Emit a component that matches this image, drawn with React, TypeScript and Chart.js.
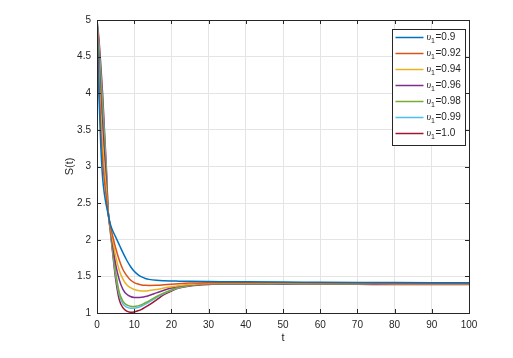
import React, { useEffect, useRef } from 'react';
import { Chart, registerables } from 'chart.js';

Chart.register(...registerables);

// time samples
const tValues = [0, 0.5, 1, 1.5, 2, 2.5, 3, 3.5, 4, 5, 6, 7, 8, 9, 10, 11, 12, 13, 14, 16, 18, 20, 22, 25, 30, 35, 40, 50, 60, 70, 80, 90, 100];

// S(t) for each v1
const s090 = [5, 4.0, 3.3, 2.85, 2.62, 2.47, 2.35, 2.23, 2.15, 2.04, 1.93, 1.82, 1.72, 1.635, 1.57, 1.525, 1.493, 1.472, 1.459, 1.446, 1.44, 1.437, 1.435, 1.432, 1.429, 1.427, 1.425, 1.422, 1.42, 1.418, 1.416, 1.414, 1.412];
const s092 = [5, 4.15, 3.52, 3.08, 2.8, 2.58, 2.36, 2.21, 2.1, 1.89, 1.72, 1.59, 1.51, 1.45, 1.415, 1.395, 1.383, 1.378, 1.376, 1.378, 1.385, 1.393, 1.4, 1.408, 1.413, 1.414, 1.414, 1.412, 1.41, 1.408, 1.407, 1.406, 1.405];
const s094 = [5, 4.3, 3.74, 3.31, 2.97, 2.68, 2.37, 2.2, 2.06, 1.78, 1.58, 1.46, 1.385, 1.345, 1.32, 1.307, 1.302, 1.302, 1.306, 1.32, 1.34, 1.358, 1.373, 1.39, 1.403, 1.407, 1.407, 1.405, 1.403, 1.402, 1.401, 1.4, 1.4];
const s096 = [5, 4.45, 3.96, 3.54, 3.15, 2.79, 2.38, 2.19, 2.02, 1.67, 1.45, 1.32, 1.255, 1.225, 1.212, 1.21, 1.215, 1.225, 1.24, 1.275, 1.31, 1.34, 1.365, 1.385, 1.4, 1.403, 1.403, 1.401, 1.399, 1.398, 1.397, 1.396, 1.396];
const s098 = [5, 4.6, 4.18, 3.77, 3.32, 2.9, 2.39, 2.17, 1.97, 1.56, 1.28, 1.16, 1.11, 1.093, 1.09, 1.097, 1.115, 1.14, 1.165, 1.225, 1.275, 1.315, 1.35, 1.38, 1.397, 1.4, 1.4, 1.398, 1.396, 1.395, 1.394, 1.394, 1.394];
const s099 = [5, 4.68, 4.29, 3.88, 3.41, 2.95, 2.395, 2.16, 1.95, 1.52, 1.24, 1.12, 1.08, 1.066, 1.065, 1.075, 1.095, 1.12, 1.15, 1.21, 1.265, 1.31, 1.345, 1.375, 1.395, 1.398, 1.398, 1.396, 1.394, 1.393, 1.392, 1.392, 1.392];
const s100 = [5, 4.75, 4.4, 4.0, 3.5, 3.0, 2.4, 2.15, 1.92, 1.47, 1.18, 1.07, 1.025, 1.01, 1.015, 1.03, 1.05, 1.08, 1.11, 1.18, 1.25, 1.3, 1.34, 1.37, 1.39, 1.395, 1.395, 1.393, 1.392, 1.391, 1.39, 1.39, 1.39];

const seriesLabels = ['0.9', '0.92', '0.94', '0.96', '0.98', '0.99', '1.0'];
const seriesValues = [s090, s092, s094, s096, s098, s099, s100];
const seriesColors = ['#0072BD', '#D95319', '#EDB120', '#7E2F8E', '#77AC30', '#4DBEEE', '#A2142F'];

const xTicks = [0, 10, 20, 30, 40, 50, 60, 70, 80, 90, 100];
const yTicks = [1, 1.5, 2, 2.5, 3, 3.5, 4, 4.5, 5];

const AXIS_COLOR = '#262626';

const boxPlugin = {
  id: 'matlabBox',
  afterDraw(chart: any) {
    const { ctx, chartArea } = chart;
    const { left, right, top, bottom } = chartArea;
    const xs = chart.scales.x;
    const ys = chart.scales.y;
    ctx.save();
    ctx.strokeStyle = AXIS_COLOR;
    ctx.lineWidth = 1;
    ctx.beginPath();
    const tl = 4;
    xTicks.forEach((v) => {
      const px = Math.round(xs.getPixelForValue(v)) + 0.5;
      ctx.moveTo(px, bottom);
      ctx.lineTo(px, bottom - tl);
      ctx.moveTo(px, top);
      ctx.lineTo(px, top + tl);
    });
    yTicks.forEach((v) => {
      const py = Math.round(ys.getPixelForValue(v)) + 0.5;
      ctx.moveTo(left, py);
      ctx.lineTo(left + tl, py);
      ctx.moveTo(right, py);
      ctx.lineTo(right - tl, py);
    });
    ctx.stroke();
    ctx.strokeRect(Math.round(left) + 0.5, Math.round(top) + 0.5, Math.round(right - left), Math.round(bottom - top));

    // legend
    const lw = 73;
    const lh = 116;
    const lx = Math.round(right - 4 - lw) + 0.5;
    const ly = Math.round(top + 9) + 0.5;
    ctx.fillStyle = '#ffffff';
    ctx.fillRect(lx, ly, lw, lh);
    ctx.strokeRect(lx, ly, lw, lh);
    chart.data.datasets.forEach((ds: any, i: number) => {
      const cy = ly + 8 + i * 16;
      ctx.strokeStyle = ds.borderColor;
      ctx.lineWidth = 1.5;
      ctx.beginPath();
      ctx.moveTo(lx + 3, cy);
      ctx.lineTo(lx + 31, cy);
      ctx.stroke();
      ctx.fillStyle = AXIS_COLOR;
      ctx.textBaseline = 'middle';
      ctx.textAlign = 'left';
      let tx = lx + 34;
      ctx.font = 'italic 10px "Liberation Serif"';
      ctx.fillText('\u03c5', tx, cy);
      tx += ctx.measureText('\u03c5').width;
      ctx.font = '7px "Liberation Sans"';
      ctx.fillText('1', tx, cy + 3.5);
      tx += ctx.measureText('1').width + 0.5;
      ctx.font = '10px "Liberation Sans"';
      ctx.fillText('=' + seriesLabels[i], tx, cy);
    });
    ctx.restore();
  },
};

export default function App() {
  const canvasRef = useRef<HTMLCanvasElement | null>(null);

  useEffect(() => {
    if (!canvasRef.current) return;
    const chart = new Chart(canvasRef.current, {
      type: 'line',
      data: {
        datasets: seriesValues.map((vals, i) => ({
          label: 'v1=' + seriesLabels[i],
          data: tValues.map((t, j) => ({ x: t, y: vals[j] })),
          borderColor: seriesColors[i],
          backgroundColor: seriesColors[i],
          borderWidth: 1.5,
          pointRadius: 0,
          fill: false,
          cubicInterpolationMode: 'monotone' as const,
        })),
      },
      options: {
        responsive: false,
        animation: false,
        events: [],
        layout: { padding: { left: 0, right: 44, top: 20, bottom: 0 } },
        plugins: {
          legend: { display: false },
          tooltip: { enabled: false },
        },
        scales: {
          x: {
            type: 'linear',
            min: 0,
            max: 100,
            afterBuildTicks: (scale: any) => {
              scale.ticks = xTicks.map((v) => ({ value: v }));
            },
            afterFit: (scale: any) => {
              scale.height = 45;
            },
            grid: { color: '#e4e4e4', drawTicks: false, lineWidth: 1 },
            border: { display: false },
            ticks: {
              color: AXIS_COLOR,
              font: { family: '"Liberation Sans"', size: 10 },
              padding: 6,
              maxRotation: 0,
              autoSkip: false,
              callback: (v: any) => String(v),
            },
            title: {
              display: true,
              text: 't',
              color: AXIS_COLOR,
              font: { family: '"Liberation Sans"', size: 11 },
              padding: { top: 0, bottom: 13 },
            },
          },
          y: {
            type: 'linear',
            min: 1,
            max: 5,
            afterBuildTicks: (scale: any) => {
              scale.ticks = yTicks.map((v) => ({ value: v }));
            },
            afterFit: (scale: any) => {
              scale.width = 97;
            },
            grid: { color: '#e4e4e4', drawTicks: false, lineWidth: 1 },
            border: { display: false },
            ticks: {
              color: AXIS_COLOR,
              font: { family: '"Liberation Sans"', size: 10 },
              padding: 6,
              autoSkip: false,
              callback: (v: any) => String(v),
            },
            title: {
              display: true,
              text: 'S(t)',
              color: AXIS_COLOR,
              font: { family: '"Liberation Sans"', size: 11 },
              padding: { top: 63, bottom: 0 },
            },
          },
        },
      },
      plugins: [boxPlugin],
    });
    return () => chart.destroy();
  }, []);

  return (
    <div style={{ position: 'absolute', left: 0, top: 0, width: 513, height: 358, background: '#fff' }}>
      <canvas ref={canvasRef} width={513} height={358} />
    </div>
  );
}
